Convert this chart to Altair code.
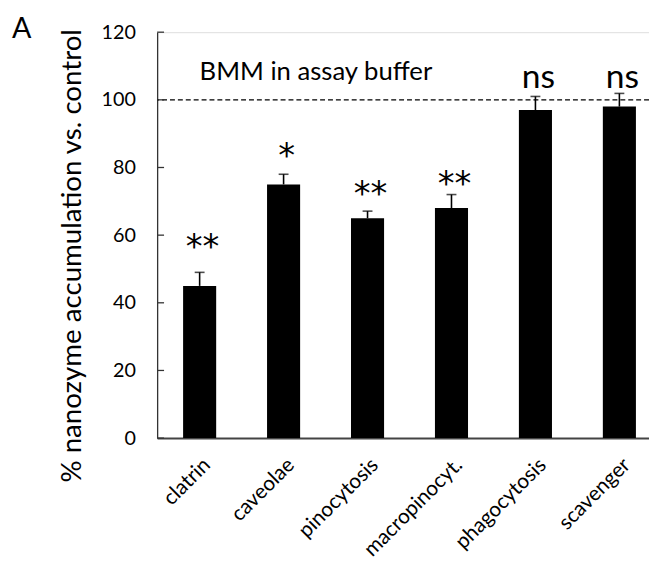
import altair as alt
import pandas as pd

categories = ["clatrin", "caveolae", "pinocytosis", "macropinocyt.", "phagocytosis", "scavenger"]
values = [45, 75, 65, 68, 97, 98]
errors = [4, 3, 2.1, 4, 4, 3.9]
sig_labels = ["**", "*", "**", "**", "ns", "ns"]
sig_y = [53.1, 80.0, 68.9, 71.8, 103.4, 103.4]
y_ticks = [0, 20, 40, 60, 80, 100, 120]
control_level = [100]
annotation_text = ["BMM in assay buffer"]
annotation_y = [106]
panel_label = ["A"]

FONT = "Lato"

df = pd.DataFrame({
    "cat": categories,
    "val": values,
    "err": errors,
    "top": [v + e for v, e in zip(values, errors)],
    "sig": sig_labels,
    "sig_y": sig_y,
})

x_enc = alt.X(
    "cat:N",
    sort=categories,
    title=None,
    scale=alt.Scale(paddingInner=0.606, paddingOuter=0.2325, align=0.665),
    axis=alt.Axis(
        labelAngle=-45, labelAlign="right", labelBaseline="top",
        labelFont=FONT, labelFontSize=21, labelColor="#000",
        labelPadding=16, ticks=False, tickSize=0,
        domainColor="#444", domainWidth=2,
    ),
)
y_scale = alt.Scale(domain=[0, 120], nice=False)

base = alt.Chart(df)

bars = base.mark_bar(color="black").encode(
    x=x_enc,
    y=alt.Y(
        "val:Q",
        scale=y_scale,
        title="% nanozyme accumulation vs. control",
        axis=alt.Axis(
            values=y_ticks, ticks=False, tickSize=0, grid=False,
            labelFont=FONT, labelFontSize=20, labelColor="#000", labelPadding=22,
            titleFont=FONT, titleFontSize=28, titleFontWeight="normal", titleColor="#000",
            titlePadding=15, titleY=226, domainColor="#333", domainWidth=1.3,
        ),
    ),
)

err_rule = base.mark_rule(color="black", strokeWidth=1.6).encode(
    x=alt.X("cat:N", sort=categories),
    y="val:Q",
    y2="top:Q",
)
err_cap = base.mark_tick(color="black", thickness=1.6, size=10).encode(
    x=alt.X("cat:N", sort=categories),
    y="top:Q",
)

star_text = base.transform_filter(alt.datum.sig != "ns").mark_text(
    font="DejaVu Sans", fontSize=34, color="black", baseline="alphabetic", align="center", dx=3
).encode(
    x=alt.X("cat:N", sort=categories),
    y="sig_y:Q",
    text="sig:N",
)
ns_text = base.transform_filter(alt.datum.sig == "ns").mark_text(
    font=FONT, fontSize=34, color="black", baseline="alphabetic", align="center", dx=3
).encode(
    x=alt.X("cat:N", sort=categories),
    y="sig_y:Q",
    text="sig:N",
)

ref_line = alt.Chart(pd.DataFrame({"y": control_level})).mark_rule(
    color="black", strokeDash=[5, 3], strokeWidth=1.3
).encode(y="y:Q")

ticks_df = pd.DataFrame({"t": y_ticks})
y_tick_marks = alt.Chart(ticks_df).mark_rule(color="#333", strokeWidth=1.3).encode(
    y="t:Q", x=alt.value(0), x2=alt.value(7)
)

annot = alt.Chart(pd.DataFrame({"label": annotation_text, "y": annotation_y})).mark_text(
    font=FONT, fontSize=26, color="black", align="left", baseline="alphabetic"
).encode(x=alt.value(43), y="y:Q", text="label:N")

panel = alt.Chart(pd.DataFrame({"label": panel_label})).mark_text(
    font=FONT, fontSize=29, color="black", align="left", baseline="alphabetic"
).encode(x=alt.value(-147), y=alt.value(6), text="label:N")

chart = alt.layer(
    ref_line, bars, err_rule, err_cap, star_text, ns_text, y_tick_marks, annot, panel
).resolve_scale(y="shared").properties(
    width=498,
    height=411,
    autosize=alt.AutoSizeParams(type="none"),
    padding={"left": 151, "top": 21, "right": 0, "bottom": 126},
).configure_view(stroke=None).configure(background="white")

chart.save("out.html", embed_options={"renderer": "svg", "actions": False})
